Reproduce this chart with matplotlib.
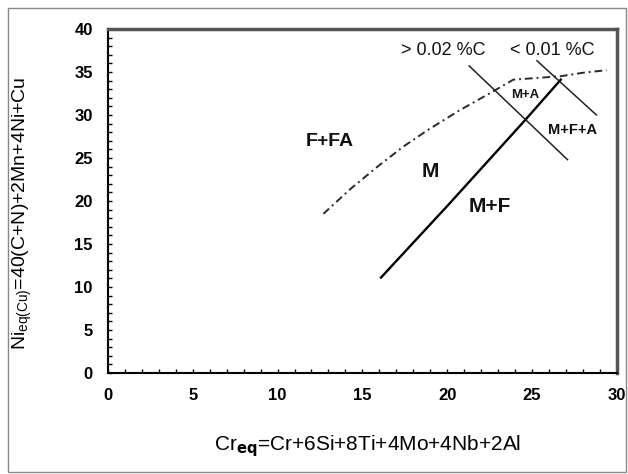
import matplotlib.pyplot as plt
from matplotlib.patches import Rectangle
from matplotlib.ticker import MultipleLocator

# phase boundaries (Cr_eq, Ni_eq)
ffa_x = [12.7, 14.3, 15.9, 17.4, 18.9, 20.7, 22.5, 23.9, 25.3, 26.7, 28.0, 29.4]
ffa_y = [18.5, 21.4, 24.0, 26.3, 28.3, 30.5, 32.5, 34.1, 34.3, 34.5, 34.9, 35.2]
mf_x = [16.1, 20.0, 24.6, 26.7]
mf_y = [11.1, 19.4, 29.4, 34.1]
c002_x = [21.3, 27.1]
c002_y = [35.7, 24.8]
c001_x = [25.3, 28.8]
c001_y = [36.3, 30.0]

labels = ["F+FA", "M", "M+F", "M+A", "M+F+A", "> 0.02 %C", "< 0.01 %C"]
label_x = [13.1, 19.0, 22.5, 24.6, 27.4, 19.8, 26.2]
label_y = [26.9, 23.4, 19.3, 32.3, 28.2, 37.5, 37.5]
label_size = [14, 15, 15, 9.5, 10.5, 13, 13]
label_weight = ["bold", "bold", "bold", "bold", "bold", "normal", "normal"]

plt.rcParams['font.family'] = ['Liberation Sans', 'DejaVu Sans']

fig = plt.figure(figsize=(6.28, 4.74), dpi=100)
ax = fig.add_axes([0.172, 0.213, 0.81, 0.726])

ax.plot(ffa_x, ffa_y, color="#2a2a2a", lw=1.4, ls=(0, (4, 2, 1, 2)))
ax.plot(mf_x, mf_y, color="k", lw=1.7)
ax.plot(c002_x, c002_y, color="#222222", lw=1.1)
ax.plot(c001_x, c001_y, color="#222222", lw=1.1)

for t, x, y, s, w in zip(labels, label_x, label_y, label_size, label_weight):
    ax.text(x, y, t, fontsize=s, fontweight=w, ha="center", va="center", color="#111111")

ax.set_xlim(0, 30)
ax.set_ylim(0, 40)
ax.xaxis.set_major_locator(MultipleLocator(5))
ax.yaxis.set_major_locator(MultipleLocator(5))
ax.xaxis.set_minor_locator(MultipleLocator(1))
ax.yaxis.set_minor_locator(MultipleLocator(1))
ax.tick_params(which="both", direction="in", length=3, width=1)
ax.tick_params(which="major", labelsize=12, pad=11)
for lab in ax.get_xticklabels() + ax.get_yticklabels():
    lab.set_fontweight("bold")
for sp in ax.spines.values():
    sp.set_linewidth(1.5)
for side in ["top", "right"]:
    ax.spines[side].set_color("#555555")
    ax.spines[side].set_linewidth(2.5)

ax.set_xlabel(r"Cr$_{\mathbf{eq}}$=Cr+6Si+8Ti+4Mo+4Nb+2Al", fontsize=15)
ax.set_ylabel(r"Ni$_{\mathregular{eq(Cu)}}$=40(C+N)+2Mn+4Ni+Cu", fontsize=14)
ax.xaxis.set_label_coords(0.51, -0.175)
ax.yaxis.set_label_coords(-0.145, 0.465)

fig.patches.append(Rectangle((8 / 628, 2 / 474), 618 / 628, 464 / 474, transform=fig.transFigure,
                             fill=False, edgecolor="#888888", lw=1))

fig.savefig("out.png", dpi=100)
